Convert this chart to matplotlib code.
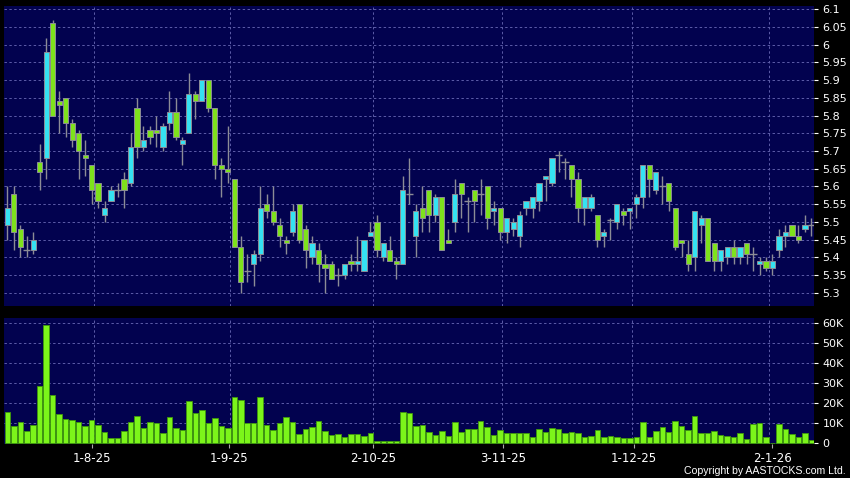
import matplotlib
matplotlib.use("Agg")
import matplotlib.pyplot as plt
import numpy as np

# ---------------- data ----------------
opens = [5.49, 5.58, 5.48, 5.42, 5.42, 5.67, 5.68, 6.06, 5.84, 5.85,
         5.78, 5.75, 5.69, 5.66, 5.61, 5.52, 5.56, 5.59, 5.62, 5.61,
         5.82, 5.71, 5.76, 5.76, 5.71, 5.78, 5.81, 5.72, 5.75, 5.86,
         5.84, 5.90, 5.82, 5.66, 5.65, 5.62, 5.43, 5.36, 5.38, 5.41,
         5.55, 5.53, 5.49, 5.45, 5.47, 5.55, 5.48, 5.40, 5.42, 5.38,
         5.38, 5.35, 5.35, 5.39, 5.38, 5.36, 5.46, 5.50, 5.40, 5.42,
         5.39, 5.38, 5.58, 5.46, 5.54, 5.59, 5.52, 5.57, 5.45, 5.50,
         5.61, 5.56, 5.59, 5.58, 5.60, 5.53, 5.54, 5.47, 5.48, 5.46,
         5.54, 5.54, 5.56, 5.62, 5.61, 5.69, 5.67, 5.66, 5.62, 5.54,
         5.54, 5.52, 5.46, 5.505, 5.50, 5.53, 5.53, 5.55, 5.57, 5.66,
         5.59, 5.60, 5.61, 5.54, 5.45, 5.41, 5.40, 5.49, 5.51, 5.44,
         5.39, 5.40, 5.43, 5.40, 5.44, 5.41, 5.38, 5.39, 5.37, 5.42,
         5.46, 5.49, 5.46, 5.48, 5.49]
highs = [5.60, 5.60, 5.49, 5.46, 5.47, 5.72, 6.02, 6.07, 5.87, 5.85,
         5.79, 5.76, 5.73, 5.66, 5.61, 5.56, 5.60, 5.61, 5.64, 5.75,
         5.85, 5.77, 5.77, 5.80, 5.78, 5.87, 5.85, 5.74, 5.92, 5.87,
         5.90, 5.90, 5.82, 5.68, 5.77, 5.62, 5.46, 5.41, 5.42, 5.60,
         5.58, 5.60, 5.51, 5.46, 5.55, 5.55, 5.49, 5.46, 5.44, 5.41,
         5.39, 5.37, 5.38, 5.41, 5.46, 5.45, 5.50, 5.52, 5.44, 5.46,
         5.40, 5.63, 5.68, 5.55, 5.60, 5.59, 5.58, 5.57, 5.48, 5.62,
         5.61, 5.57, 5.59, 5.62, 5.60, 5.56, 5.54, 5.51, 5.51, 5.53,
         5.56, 5.57, 5.61, 5.63, 5.68, 5.70, 5.68, 5.66, 5.64, 5.57,
         5.58, 5.52, 5.48, 5.51, 5.55, 5.54, 5.54, 5.58, 5.66, 5.66,
         5.64, 5.63, 5.61, 5.54, 5.45, 5.45, 5.53, 5.52, 5.51, 5.44,
         5.42, 5.43, 5.45, 5.43, 5.44, 5.43, 5.40, 5.40, 5.41, 5.48,
         5.49, 5.49, 5.49, 5.52, 5.51]
lows = [5.45, 5.42, 5.40, 5.40, 5.41, 5.59, 5.62, 5.80, 5.75, 5.74,
        5.71, 5.62, 5.63, 5.55, 5.54, 5.50, 5.56, 5.57, 5.54, 5.60,
        5.68, 5.70, 5.72, 5.71, 5.70, 5.76, 5.73, 5.66, 5.75, 5.79,
        5.84, 5.81, 5.62, 5.57, 5.61, 5.43, 5.30, 5.33, 5.32, 5.39,
        5.51, 5.49, 5.43, 5.41, 5.46, 5.44, 5.37, 5.38, 5.33, 5.30,
        5.34, 5.32, 5.34, 5.36, 5.36, 5.36, 5.46, 5.40, 5.39, 5.39,
        5.34, 5.38, 5.55, 5.40, 5.47, 5.47, 5.50, 5.42, 5.44, 5.47,
        5.51, 5.47, 5.50, 5.52, 5.48, 5.49, 5.45, 5.44, 5.46, 5.43,
        5.52, 5.51, 5.53, 5.56, 5.60, 5.64, 5.62, 5.57, 5.50, 5.49,
        5.53, 5.43, 5.43, 5.45, 5.48, 5.49, 5.48, 5.51, 5.54, 5.57,
        5.58, 5.55, 5.53, 5.42, 5.40, 5.36, 5.36, 5.44, 5.39, 5.36,
        5.36, 5.38, 5.38, 5.38, 5.38, 5.36, 5.35, 5.36, 5.35, 5.40,
        5.43, 5.46, 5.44, 5.47, 5.46]
closes = [5.54, 5.47, 5.43, 5.42, 5.45, 5.64, 5.98, 5.80, 5.83, 5.78,
          5.73, 5.70, 5.68, 5.59, 5.56, 5.54, 5.59, 5.59, 5.59, 5.71,
          5.71, 5.73, 5.74, 5.75, 5.77, 5.81, 5.74, 5.73, 5.86, 5.84,
          5.90, 5.82, 5.66, 5.65, 5.64, 5.43, 5.33, 5.36, 5.41, 5.54,
          5.53, 5.50, 5.46, 5.44, 5.53, 5.45, 5.42, 5.44, 5.38, 5.37,
          5.34, 5.35, 5.38, 5.38, 5.39, 5.45, 5.47, 5.42, 5.44, 5.39,
          5.38, 5.59, 5.58, 5.53, 5.51, 5.52, 5.57, 5.42, 5.44, 5.58,
          5.58, 5.56, 5.56, 5.58, 5.51, 5.54, 5.47, 5.51, 5.50, 5.52,
          5.56, 5.57, 5.61, 5.63, 5.68, 5.69, 5.67, 5.62, 5.54, 5.57,
          5.57, 5.45, 5.47, 5.505, 5.55, 5.52, 5.54, 5.57, 5.66, 5.62,
          5.64, 5.60, 5.56, 5.43, 5.44, 5.38, 5.53, 5.51, 5.39, 5.39,
          5.42, 5.43, 5.40, 5.43, 5.41, 5.41, 5.39, 5.37, 5.39, 5.46,
          5.47, 5.46, 5.45, 5.49, 5.49]
volumes_k = [15.7, 8.8, 10.7, 6.3, 9.2, 28.7, 59.2, 24.2, 14.5, 12.2,
             11.5, 10.5, 8.8, 11.5, 9.2, 5.5, 2.8, 2.5, 6.2, 10.7,
             13.7, 7.7, 10.7, 10.2, 5.0, 13.3, 7.7, 6.5, 21.2, 15.2,
             16.7, 10.0, 12.7, 8.7, 7.7, 23.2, 21.5, 10.0, 10.2, 23.3,
             9.0, 6.8, 10.2, 13.0, 10.7, 4.7, 7.2, 8.0, 11.0, 6.0,
             4.3, 4.7, 3.2, 4.7, 4.7, 3.7, 5.3, 1.0, 1.0, 1.3,
             1.0, 15.8, 15.3, 8.7, 9.0, 5.5, 4.0, 6.0, 3.7, 10.5,
             5.7, 7.2, 7.2, 11.3, 8.2, 4.3, 6.7, 5.0, 5.0, 5.0,
             5.0, 3.3, 7.3, 5.5, 7.8, 7.0, 5.3, 5.7, 5.0, 3.0,
             3.7, 6.7, 3.3, 3.7, 3.2, 2.7, 2.7, 3.0, 10.7, 3.3,
             6.0, 8.3, 5.7, 11.3, 8.8, 6.8, 13.7, 5.3, 5.2, 6.0,
             4.3, 3.7, 3.3, 5.0, 2.2, 9.8, 10.0, 3.3, 0.3, 9.5,
             7.0, 4.8, 3.3, 5.0, 1.5]
date_labels = ["1-8-25", "1-9-25", "2-10-25", "3-11-25", "1-12-25", "2-1-26"]
date_tick_idx = [13.0, 34.2, 56.4, 76.5, 96.6, 118.0]
date_grid_idx = [13.4, 34.4, 56.4, 76.3, 96.4, 117.4]
price_ticks = [6.1, 6.05, 6.0, 5.95, 5.9, 5.85, 5.8, 5.75, 5.7, 5.65,
               5.6, 5.55, 5.5, 5.45, 5.4, 5.35, 5.3]
vol_ticks_k = [0, 10, 20, 30, 40, 50, 60]

# ---------------- style ----------------
BG = "#02024f"
UP = "#35e2f2"
DOWN = "#7ee21c"
EDGE = "#8c8c96"
GRID = "#5c5ca8"
VOLC = "#7cf51a"
VOLE = "#3f9a0c"

W, H = 850, 478
fig = plt.figure(figsize=(W / 100, H / 100), dpi=100, facecolor="black")
axp = fig.add_axes([4 / W, (H - 306) / H, 810 / W, 300 / H])
axv = fig.add_axes([4 / W, (H - 444) / H, 810 / W, 126 / H])

o = np.array(opens); h = np.array(highs); l = np.array(lows); c = np.array(closes)
v = np.array(volumes_k)
x = np.arange(len(o))

for ax in (axp, axv):
    ax.set_facecolor(BG)
    for s in ax.spines.values():
        s.set_visible(False)
    ax.set_xlim(-0.51, 124.4)
    for gx in date_grid_idx:
        ax.axvline(gx, color=GRID, lw=0.7, ls=(0, (2.5, 2.5)), zorder=0.5)

# price grid
for p in price_ticks:
    axp.axhline(p, color=GRID, lw=0.7, ls=(0, (2.5, 2.5)), zorder=0.5)
for vt in vol_ticks_k[1:]:
    axv.axhline(vt, color=GRID, lw=0.7, ls=(0, (2.5, 2.5)), zorder=0.5)

# candles
axp.vlines(x, l, h, color=EDGE, lw=1.0, zorder=2)
doji = np.isclose(o, c)
up = (c > o) & ~doji
dn = (c < o) & ~doji
bw = 0.8
axp.bar(x[up], (c - o)[up], bottom=o[up], width=bw, color=UP,
        edgecolor=EDGE, lw=0.7, zorder=3)
axp.bar(x[dn], (o - c)[dn], bottom=c[dn], width=bw, color=DOWN,
        edgecolor=EDGE, lw=0.7, zorder=3)
axp.hlines(c[doji], x[doji] - 0.55, x[doji] + 0.55, color=EDGE, lw=1.0, zorder=3)

axp.set_ylim(5.2625, 6.1093)
axp.yaxis.tick_right()
axp.set_yticks(price_ticks)
axp.set_yticklabels([("%g" % p) for p in price_ticks])
axp.set_xticks([])

# volume
axv.bar(x, v, width=0.85, color=VOLC, edgecolor=VOLE, lw=0.6, zorder=3)
axv.set_ylim(-0.35, 62.65)
axv.yaxis.tick_right()
axv.set_yticks(vol_ticks_k)
axv.set_yticklabels([("%dK" % t) if t else "0" for t in vol_ticks_k])
axv.set_xticks(date_tick_idx)
axv.set_xticklabels(date_labels)

for ax in (axp, axv):
    ax.tick_params(axis="y", colors="white", labelsize=8, length=3, width=0.8,
                   pad=3, labelcolor="white")
    for lab in ax.get_yticklabels():
        lab.set_fontfamily("DejaVu Sans")
axv.tick_params(axis="x", colors="#aaaaaa", labelsize=8.5, length=3, width=0.8,
                pad=3, labelcolor="white")

fig.text(846 / W, 1 - 471.5 / H, "Copyright by AASTOCKS.com Ltd.", color="white",
         fontsize=7.6, ha="right", va="center", family="Liberation Sans")

fig.savefig("out.png", dpi=100, facecolor="black")
